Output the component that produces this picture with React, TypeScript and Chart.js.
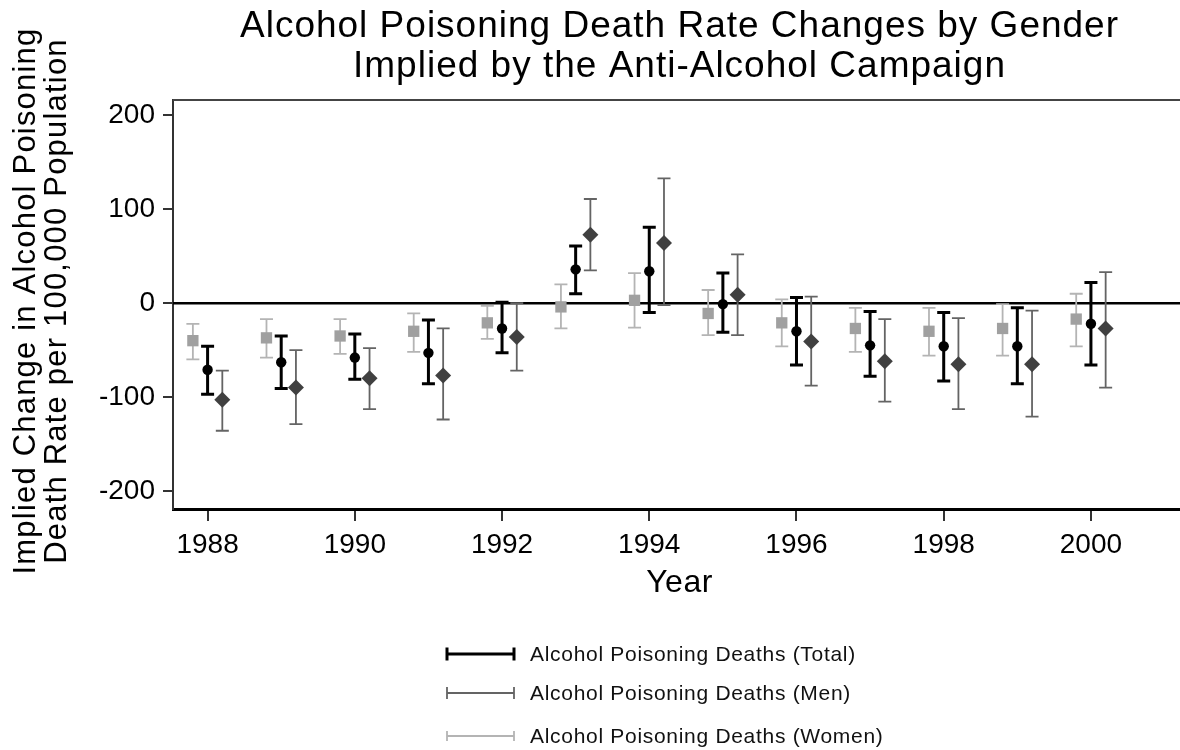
import React, { useEffect, useRef } from "react";
import { Chart, registerables } from "chart.js";

Chart.register(...registerables);

const years = [1988, 1989, 1990, 1991, 1992, 1993, 1994, 1995, 1996, 1997, 1998, 1999, 2000];

const totalEst = [-71, -63, -58, -53, -27, 36, 34, -1, -30, -45, -46, -46, -22];
const totalLo = [-97, -91, -81, -86, -53, 10, -10, -31, -66, -78, -83, -86, -66];
const totalHi = [-46, -35, -33, -18, 1, 61, 81, 32, 6, -9, -10, -5, 22];

const menEst = [-103, -90, -80, -77, -36, 73, 64, 9, -41, -62, -65, -65, -27];
const menLo = [-136, -129, -113, -124, -72, 35, -2, -34, -88, -105, -113, -121, -90];
const menHi = [-72, -50, -48, -27, 0, 111, 133, 52, 7, -17, -16, -8, 33];

const womenEst = [-40, -37, -35, -30, -21, -4, 3, -11, -21, -27, -30, -27, -17];
const womenLo = [-60, -58, -54, -52, -38, -27, -26, -34, -46, -52, -56, -56, -46];
const womenHi = [-22, -17, -17, -11, -3, 20, 32, 14, 4, -5, -5, -1, 10];

const xTicks = [1988, 1990, 1992, 1994, 1996, 1998, 2000];
const yTicks = [-200, -100, 0, 100, 200];

const titleLines = ["Alcohol Poisoning Death Rate Changes by Gender", "Implied by the Anti-Alcohol Campaign"];
const yTitleLines = ["Implied Change in Alcohol Poisoning", "Death Rate per 100,000 Population"];
const xTitle = "Year";
const legendLabels = [
  "Alcohol Poisoning Deaths (Total)",
  "Alcohol Poisoning Deaths (Men)",
  "Alcohol Poisoning Deaths (Women)",
];

const FONT = "'Liberation Sans', Arial, sans-serif";

const errorBarPlugin = {
  id: "errorBars",
  beforeDatasetsDraw(chart: any) {
    const { ctx, chartArea } = chart;
    const yScale = chart.scales.y;
    ctx.save();
    // top frame line
    ctx.strokeStyle = "#444";
    ctx.lineWidth = 2;
    ctx.beginPath();
    ctx.moveTo(chartArea.left, chartArea.top);
    ctx.lineTo(chartArea.right, chartArea.top);
    ctx.stroke();
    // zero line
    const y0 = yScale.getPixelForValue(0);
    ctx.strokeStyle = "#000";
    ctx.lineWidth = 2.5;
    ctx.beginPath();
    ctx.moveTo(chartArea.left, y0);
    ctx.lineTo(chartArea.right, y0);
    ctx.stroke();
    chart.data.datasets.forEach((ds: any, i: number) => {
      const meta = chart.getDatasetMeta(i);
      ctx.strokeStyle = ds.barColor;
      ctx.lineWidth = ds.barWidth;
      meta.data.forEach((el: any, j: number) => {
        const x = el.x;
        const yl = yScale.getPixelForValue(ds.errLo[j]);
        const yh = yScale.getPixelForValue(ds.errHi[j]);
        ctx.beginPath();
        ctx.moveTo(x, yl);
        ctx.lineTo(x, yh);
        ctx.moveTo(x - ds.capHalf, yl);
        ctx.lineTo(x + ds.capHalf, yl);
        ctx.moveTo(x - ds.capHalf, yh);
        ctx.lineTo(x + ds.capHalf, yh);
        ctx.stroke();
      });
    });
    ctx.restore();
  },
};

const textPlugin = {
  id: "texts",
  afterDraw(chart: any) {
    const { ctx, chartArea } = chart;
    const cx = (chartArea.left + chartArea.right) / 2 + 3;
    ctx.save();
    ctx.fillStyle = "#000";
    // title
    ctx.font = `37px ${FONT}`;
    (ctx as any).letterSpacing = "1px";
    ctx.textAlign = "center";
    ctx.textBaseline = "alphabetic";
    ctx.fillText(titleLines[0], cx, 37);
    ctx.fillText(titleLines[1], cx, 77);
    // x title
    ctx.font = `32px ${FONT}`;
    (ctx as any).letterSpacing = "0.5px";
    ctx.fillText(xTitle, cx, 592);
    // y title
    ctx.font = `31px ${FONT}`;
    (ctx as any).letterSpacing = "1.2px";
    const cy = 301;
    [35, 66].forEach((bx, k) => {
      ctx.save();
      ctx.translate(bx, cy);
      ctx.rotate(-Math.PI / 2);
      ctx.fillText(yTitleLines[k], 0, 0);
      ctx.restore();
    });
    // legend
    const rowsY = [654, 693, 736];
    ctx.font = `21px ${FONT}`;
    (ctx as any).letterSpacing = "0.7px";
    ctx.textAlign = "left";
    ctx.textBaseline = "middle";
    chart.data.datasets
      .slice()
      .sort((a: any, b: any) => a.legendOrder - b.legendOrder)
      .forEach((ds: any, k: number) => {
        const y = rowsY[k];
        ctx.strokeStyle = ds.barColor;
        ctx.lineWidth = ds.barWidth;
        const h = ds.legendCap;
        ctx.beginPath();
        ctx.moveTo(447, y);
        ctx.lineTo(514, y);
        ctx.moveTo(447, y - h);
        ctx.lineTo(447, y + h);
        ctx.moveTo(514, y - h);
        ctx.lineTo(514, y + h);
        ctx.stroke();
        ctx.fillStyle = "#111";
        ctx.fillText(legendLabels[ds.legendOrder], 530, y + 1);
      });
    ctx.restore();
  },
};

export default function App() {
  const ref = useRef<HTMLCanvasElement | null>(null);
  useEffect(() => {
    if (!ref.current) return;
    const mk = (offset: number, est: number[]) => years.map((yr, i) => ({ x: yr + offset, y: est[i] }));
    const chart = new Chart(ref.current, {
      type: "scatter",
      data: {
        datasets: [
          {
            label: legendLabels[2],
            data: mk(-0.2, womenEst),
            errLo: womenLo,
            errHi: womenHi,
            barColor: "#b4b4b4",
            barWidth: 1.8,
            capHalf: 6.5,
            legendOrder: 2,
            legendCap: 5,
            pointStyle: "rect",
            pointRadius: 8,
            backgroundColor: "#a0a0a0",
            borderColor: "#a0a0a0",
            borderWidth: 0,
          } as any,
          {
            label: legendLabels[0],
            data: mk(0, totalEst),
            errLo: totalLo,
            errHi: totalHi,
            barColor: "#000000",
            barWidth: 3,
            capHalf: 6.5,
            legendOrder: 0,
            legendCap: 6.5,
            pointStyle: "circle",
            pointRadius: 5.2,
            backgroundColor: "#000000",
            borderColor: "#000000",
            borderWidth: 0,
          } as any,
          {
            label: legendLabels[1],
            data: mk(0.2, menEst),
            errLo: menLo,
            errHi: menHi,
            barColor: "#646464",
            barWidth: 1.8,
            capHalf: 6.5,
            legendOrder: 1,
            legendCap: 6,
            pointStyle: "rectRot",
            pointRadius: 8,
            backgroundColor: "#404040",
            borderColor: "#404040",
            borderWidth: 0,
          } as any,
        ],
      },
      options: {
        animation: false,
        responsive: false,
        devicePixelRatio: 1,
        layout: { autoPadding: false, padding: { top: 100, left: 0, right: 0, bottom: 0 } },
        plugins: {
          legend: { display: false },
          title: { display: false },
          tooltip: { enabled: false },
        },
        scales: {
          x: {
            type: "linear",
            min: 1987.53,
            max: 2001.21,
            afterBuildTicks: (s: any) => {
              s.ticks = xTicks.map((v) => ({ value: v }));
            },
            afterFit: (s: any) => {
              s.height = 241;
            },
            ticks: {
              font: { family: FONT, size: 28 },
              color: "#000",
              padding: 7,
              maxRotation: 0,
              autoSkip: false,
              callback: (v: any) => String(v),
            },
            grid: { drawOnChartArea: false, drawTicks: true, tickLength: 12, color: "#333", lineWidth: 2 },
            border: { display: true, color: "#000", width: 3 },
          },
          y: {
            type: "linear",
            min: -219.4,
            max: 216.5,
            afterBuildTicks: (s: any) => {
              s.ticks = yTicks.map((v) => ({ value: v }));
            },
            afterFit: (s: any) => {
              s.width = 173;
            },
            ticks: {
              font: { family: FONT, size: 28 },
              color: "#000",
              padding: 8,
              autoSkip: false,
              callback: (v: any) => String(v),
            },
            grid: { drawOnChartArea: false, drawTicks: true, tickLength: 10, color: "#333", lineWidth: 2 },
            border: { display: true, color: "#333", width: 2 },
          },
        },
      } as any,
      plugins: [errorBarPlugin, textPlugin],
    });
    return () => chart.destroy();
  }, []);
  return (
    <div style={{ position: "fixed", left: 0, top: 0, width: 1180, height: 750, background: "#fff" }}>
      <canvas ref={ref} width={1180} height={750} style={{ display: "block", width: 1180, height: 750 }} />
    </div>
  );
}
